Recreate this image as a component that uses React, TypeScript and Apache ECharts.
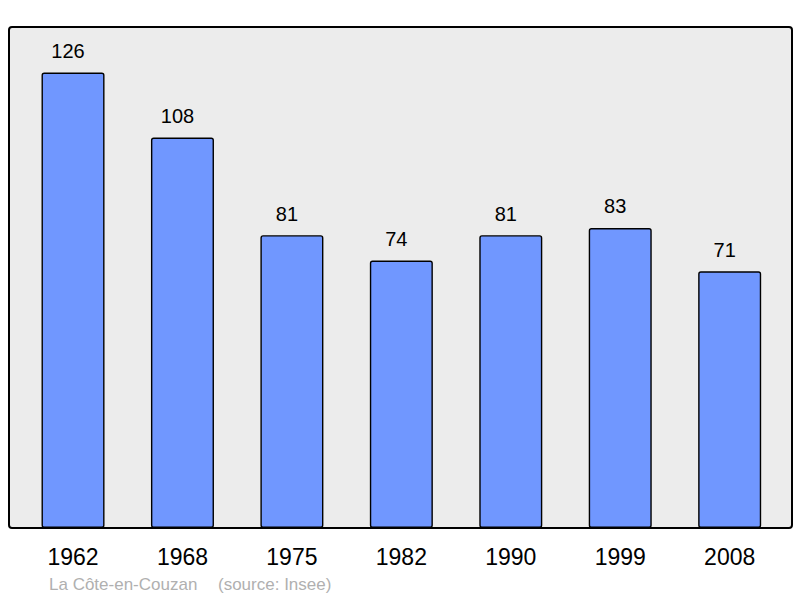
import React, { useEffect, useRef } from "react";
import * as echarts from "echarts";

const years = ["1962", "1968", "1975", "1982", "1990", "1999", "2008"];
const population = [126, 108, 81, 74, 81, 83, 71];
const placeName = "La Côte-en-Couzan";
const sourceText = "(source: Insee)";

export default function App() {
  const ref = useRef<HTMLDivElement>(null);
  useEffect(() => {
    if (!ref.current) return;
    const chart = echarts.init(ref.current, undefined, { renderer: "svg" });
    const font = "'Liberation Sans', Arial, sans-serif";
    chart.setOption({
      animation: false,
      backgroundColor: "#ffffff",
      textStyle: { fontFamily: font },
      graphic: [
        {
          type: "rect",
          z: -10,
          shape: { x: 9, y: 27, width: 783, height: 501, r: 3 },
          style: { fill: "#ececec", stroke: "#000000", lineWidth: 2 },
        },
        {
          type: "text",
          x: 49,
          y: 584,
          style: {
            text: placeName,
            fill: "#b0b0b0",
            font: `17px ${font}`,
            verticalAlign: "middle",
          },
        },
        {
          type: "text",
          x: 218,
          y: 584,
          style: {
            text: sourceText,
            fill: "#b0b0b0",
            font: `17px ${font}`,
            verticalAlign: "middle",
          },
        },
      ],
      grid: { left: 18.3, width: 766.1, top: 27, height: 501 },
      xAxis: {
        type: "category",
        data: years,
        axisLine: { show: false },
        axisTick: { show: false },
        axisLabel: {
          color: "#000000",
          fontSize: 23,
          lineHeight: 23,
          margin: 17,
          fontFamily: font,
        },
      },
      yAxis: {
        type: "value",
        min: 0,
        max: 138.6,
        show: false,
        splitLine: { show: false },
      },
      series: [
        {
          type: "bar",
          data: population,
          barWidth: 63,
          itemStyle: {
            color: "#7097ff",
            borderColor: "#000000",
            borderWidth: 1.4,
            borderRadius: 2,
          },
          label: {
            show: true,
            position: "top",
            distance: 11.5,
            offset: [-5, 0],
            color: "#000000",
            fontSize: 20,
            lineHeight: 20,
            fontFamily: font,
          },
        },
      ],
    });
    return () => chart.dispose();
  }, []);
  return <div ref={ref} style={{ width: 800, height: 598, position: "absolute", left: 0, top: 0 }} />;
}
